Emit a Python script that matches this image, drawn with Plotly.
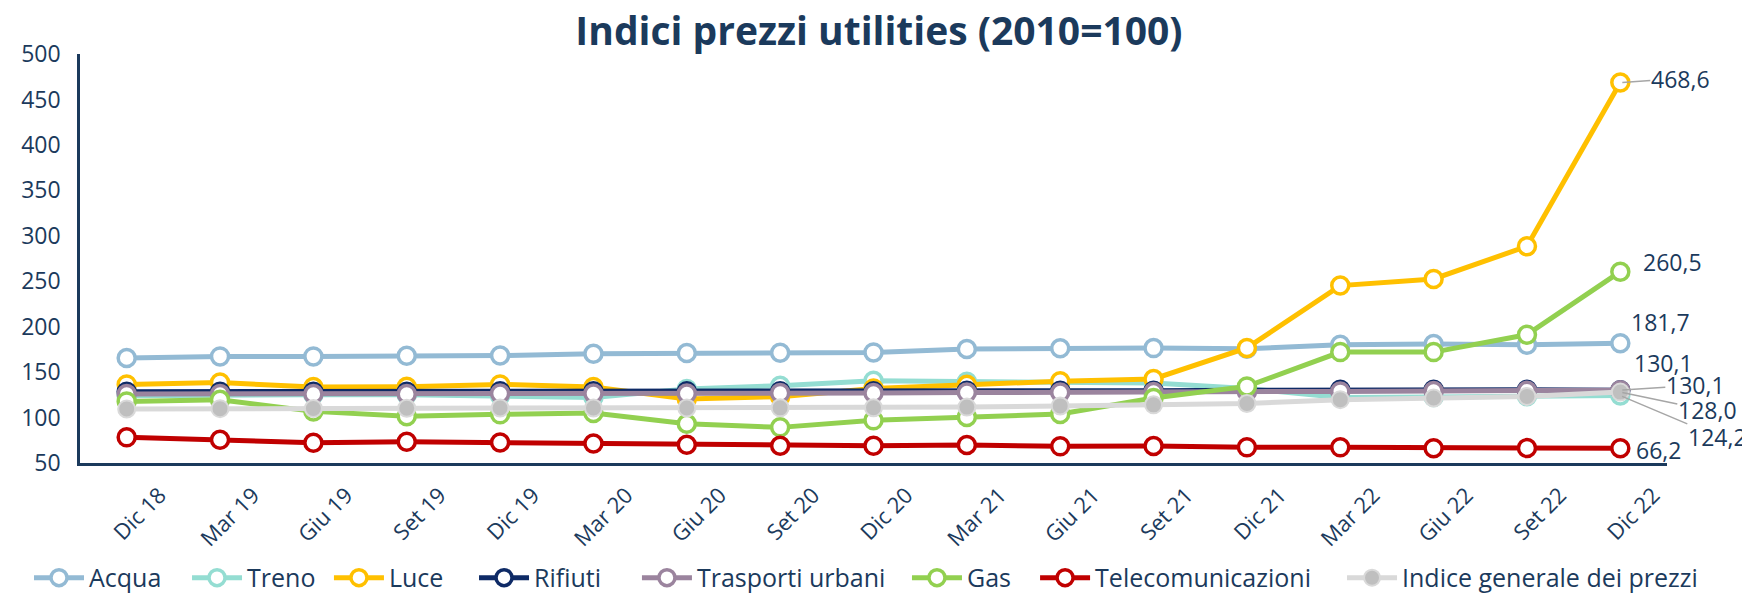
import plotly.graph_objects as go

# Trimestri
mesi = ["Dic 18", "Mar 19", "Giu 19", "Set 19", "Dic 19", "Mar 20", "Giu 20", "Set 20", "Dic 20",
        "Mar 21", "Giu 21", "Set 21", "Dic 21", "Mar 22", "Giu 22", "Set 22", "Dic 22"]

acqua = [165.6, 167.3, 167.3, 168.0, 168.2, 170.3, 171.0, 171.2, 171.7, 175.5, 176.2, 176.4, 175.8, 180.0, 181.0, 180.2, 181.7]
treno = [124.0, 125.0, 125.0, 125.0, 124.0, 122.0, 131.5, 135.0, 140.5, 139.5, 139.0, 138.0, 132.0, 122.0, 122.5, 123.5, 124.2]
luce = [136.5, 138.5, 133.5, 134.0, 136.5, 133.5, 120.5, 123.0, 132.0, 136.0, 140.0, 142.5, 176.6, 245.2, 252.5, 288.4, 468.6]
rifiuti = [128.5, 128.5, 128.5, 128.5, 129.0, 129.0, 129.0, 129.0, 129.0, 129.5, 129.5, 129.5, 130.0, 130.5, 130.5, 130.5, 130.1]
trasporti = [126.0, 126.0, 126.0, 126.0, 126.5, 126.5, 126.5, 127.0, 127.0, 127.5, 127.5, 128.0, 128.5, 128.8, 129.2, 129.6, 130.1]
gas = [117.8, 119.7, 106.8, 101.5, 103.5, 105.0, 93.3, 89.2, 96.9, 100.6, 104.0, 121.5, 134.3, 172.0, 172.0, 191.2, 260.5]
telecom = [78.2, 75.6, 72.3, 73.3, 72.5, 71.5, 70.0, 69.0, 69.0, 69.8, 68.3, 68.6, 67.2, 67.2, 66.2, 66.4, 66.2]
indice = [109.5, 109.8, 110.0, 110.3, 110.5, 110.5, 110.5, 110.7, 110.8, 111.5, 112.8, 114.0, 115.5, 119.7, 121.5, 123.3, 128.0]

NAVY = "#1b3a5c"
FONT = "Open Sans"

serie = [
    ("Acqua", acqua, "#93bad4"),
    ("Treno", treno, "#94ddd2"),
    ("Luce", luce, "#ffc000"),
    ("Rifiuti", rifiuti, "#0e2a66"),
    ("Trasporti urbani", trasporti, "#9b849e"),
    ("Gas", gas, "#92d050"),
    ("Telecomunicazioni", telecom, "#c00000"),
]

# una legenda per voce, per replicare la spaziatura dell'originale
pos_legenda = [0.012, 0.1023, 0.1834, 0.2663, 0.3594, 0.5137, 0.5869, 0.7623]
id_legende = ["legend"] + [f"legend{i}" for i in range(2, 9)]

fig = go.Figure()
for i, (nome, valori, colore) in enumerate(serie):
    fig.add_trace(go.Scatter(
        x=mesi, y=valori, name=nome, mode="lines+markers", legend=id_legende[i],
        line=dict(color=colore, width=5),
        marker=dict(size=17, color="white", line=dict(color=colore, width=3.5)),
    ))

fig.add_trace(go.Scatter(
    x=mesi, y=indice, name="Indice generale dei prezzi", mode="lines+markers",
    legend=id_legende[7],
    line=dict(color="#d9d9d9", width=5),
    marker=dict(size=17, color="#bfbfbf", line=dict(color="#d9d9d9", width=2)),
))


def etichetta(v):
    return f"{v:.1f}".replace(".", ",")


ultimo = mesi[-1]
# (valore, spostamento x, spostamento y, freccia)
etichette = [
    (luce[-1], 60, -4, True),
    (gas[-1], 52, -10, False),
    (acqua[-1], 40, -21, False),
    (rifiuti[-1], 43, -27, False),
    (trasporti[-1], 75, -5, True),
    (indice[-1], 87, 18, True),
    (treno[-1], 97, 41, True),
    (telecom[-1], 38, 2, False),
]
for v, dx, dy, freccia in etichette:
    if freccia:
        fig.add_annotation(x=ultimo, y=v, text=etichetta(v), showarrow=True,
                           ax=dx, ay=dy, arrowhead=0, arrowwidth=1.5,
                           arrowcolor="#a6a6a6", standoff=2, borderpad=0,
                           font=dict(size=23, color=NAVY, family=FONT))
    else:
        fig.add_annotation(x=ultimo, y=v, text=etichetta(v), showarrow=False,
                           xshift=dx, yshift=-dy,
                           font=dict(size=23, color=NAVY, family=FONT))

legenda = dict(orientation="h", xref="container", xanchor="left",
               y=-0.281, yanchor="middle", bgcolor="rgba(0,0,0,0)",
               font=dict(size=25, color=NAVY), itemwidth=50, tracegroupgap=0)

# la pagina aggiunge 8px di margine al body: margini compensati
fig.update_layout(
    width=1750, height=593,
    template="plotly_white",
    paper_bgcolor="white", plot_bgcolor="white",
    margin=dict(l=72, r=91, t=46, b=138, autoexpand=False),
    font=dict(family=FONT, color=NAVY, size=20),
    title=dict(text="<b>Indici prezzi utilities (2010=100)</b>",
               x=0.4977, xanchor="center", y=0.961, yanchor="middle",
               font=dict(size=39, color=NAVY, family=FONT)),
    xaxis=dict(showgrid=False, showline=True, linecolor=NAVY, linewidth=2.5,
               range=[-0.5, len(mesi) - 0.5], automargin=False,
               tickangle=-45, ticks="", tickfont=dict(size=22, color=NAVY),
               ticklabelshift=33, ticklabelstandoff=8,
               zeroline=False),
    yaxis=dict(range=[50, 500], dtick=50, showgrid=False, showline=True,
               linecolor=NAVY, linewidth=2.5, ticks="", zeroline=False,
               automargin=False,
               tickfont=dict(size=23, color=NAVY), ticklabelstandoff=12),
    showlegend=True,
)
fig.update_layout({lid: dict(legenda, x=px) for lid, px in zip(id_legende, pos_legenda)})

fig.write_html("out.html")
